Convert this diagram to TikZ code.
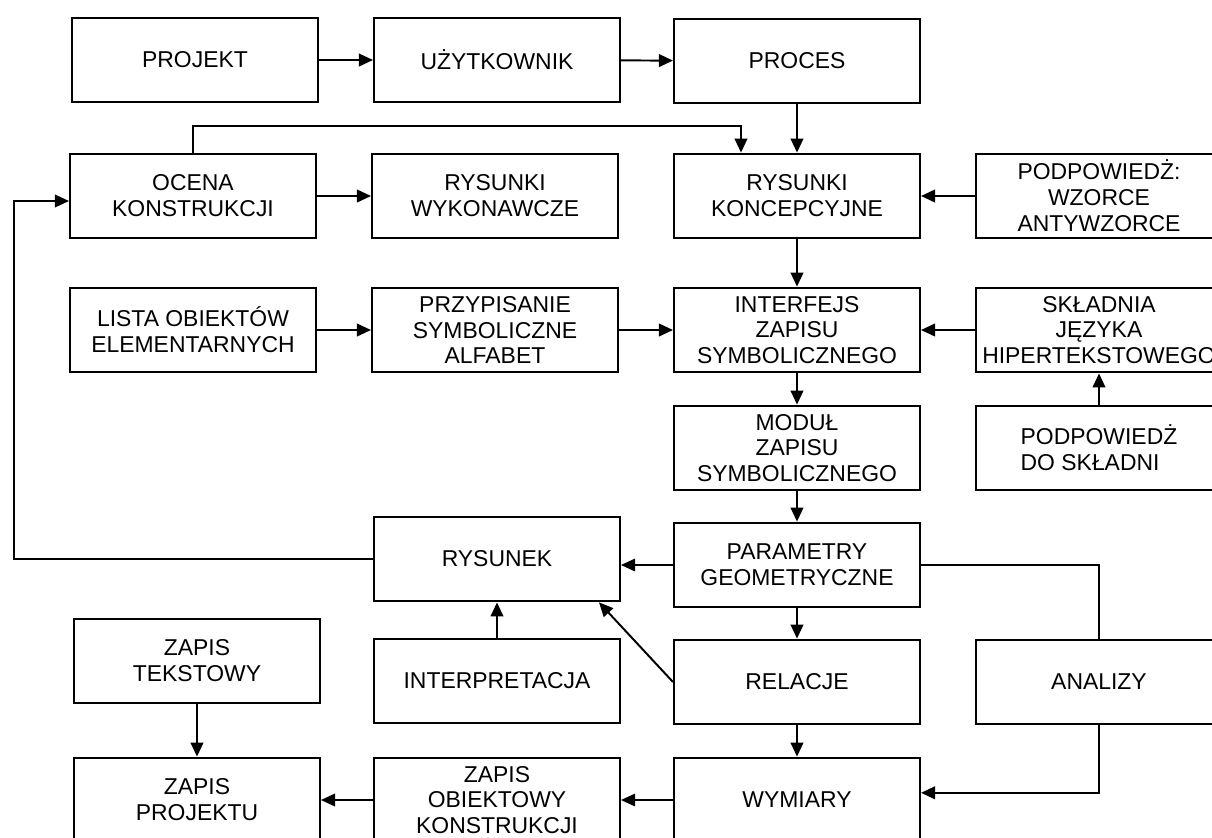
\documentclass[tikz,border=0pt]{standalone}
\usepackage{fontspec}
\setmainfont{Liberation Sans}
\usetikzlibrary{arrows.meta}
\tikzset{
  blok/.style={draw,line width=1.4pt,minimum width=6.15cm,minimum height=2.12cm,
    inner sep=1pt,align=center,font=\fontsize{16.3}{18.4}\selectfont},
  strz/.style={-{Triangle[length=10pt,width=9pt]},line width=1.4pt},
  cienka/.style={-{Triangle[length=10pt,width=9pt]},line width=0.8pt}
}
\begin{document}
\begin{tikzpicture}[x=0.025cm,y=-0.025cm]
\useasboundingbox (0,0) rectangle (1212,837);
\clip (0,0) rectangle (1212,837);
\node[blok] (projekt) at (195,60) {PROJEKT};
\node[blok] (uzytk) at (497,60) {UŻYTKOWNIK};
\node[blok] (proces) at (797,61) {PROCES};
\node[blok] (ocena) at (193,196) {OCENA\\KONSTRUKCJI};
\node[blok] (rwyk) at (495,196) {RYSUNKI\\WYKONAWCZE};
\node[blok] (rkonc) at (797,196) {RYSUNKI\\KONCEPCYJNE};
\node[blok] (wzorce) at (1099,196) {PODPOWIEDŻ:\\WZORCE\\ANTYWZORCE};
\node[blok] (lista) at (193,330) {LISTA OBIEKTÓW\\ELEMENTARNYCH};
\node[blok] (przyp) at (495,330) {PRZYPISANIE\\SYMBOLICZNE\\ALFABET};
\node[blok] (interf) at (797,330) {INTERFEJS\\ZAPISU\\SYMBOLICZNEGO};
\node[blok] (skladnia) at (1099,330) {SKŁADNIA\\JĘZYKA\\HIPERTEKSTOWEGO};
\node[blok] (modul) at (797,448) {MODUŁ\\ZAPISU\\SYMBOLICZNEGO};
\node[blok,align=left] (podpskl) at (1099,448) {PODPOWIEDŻ\\DO SKŁADNI};
\node[blok] (rysunek) at (497,559) {RYSUNEK};
\node[blok] (param) at (797,565) {PARAMETRY\\GEOMETRYCZNE};
\node[blok] (ztekst) at (197,661) {ZAPIS\\TEKSTOWY};
\node[blok] (interp) at (497,681) {INTERPRETACJA};
\node[blok] (relacje) at (797,682) {RELACJE};
\node[blok] (analizy) at (1099,682) {ANALIZY};
\node[blok] (zproj) at (197,800) {ZAPIS\\PROJEKTU};
\node[blok] (zobiekt) at (497,800) {ZAPIS\\OBIEKTOWY\\KONSTRUKCJI};
\node[blok] (wymiary) at (797,800) {WYMIARY};
\draw[strz] (projekt) -- (uzytk);
\draw[strz] (uzytk) -- (proces);
\draw[strz] (proces) -- (rkonc);
\coordinate (g1) at (741,126);
\draw[strz] (ocena.north) |- (g1) -- (g1 |- rkonc.north);
\draw[strz] (ocena) -- (rwyk);
\draw[strz] (wzorce) -- (rkonc);
\draw[strz] (rkonc) -- (interf);
\draw[strz] (lista) -- (przyp);
\draw[strz] (przyp) -- (interf);
\draw[strz] (skladnia) -- (interf);
\draw[strz] (interf) -- (modul);
\draw[strz] (podpskl) -- (skladnia);
\draw[strz] (modul) -- (param);
\draw[cienka] (param.west) -- (param.west -| rysunek.east);
\coordinate (g2) at (14,201);
\draw[cienka,line width=1.1pt] (rysunek.west) -| (g2) -- (g2 -| ocena.west);
\draw[line width=1.1pt] (param.east) -| (analizy.north);
\draw[strz] (analizy.south) |- ([yshift=0.18cm]wymiary.east);
\draw[strz] (param) -- (relacje);
\draw[strz] (relacje) -- (wymiary);
\draw[strz] (interp) -- (rysunek);
\draw[strz] (relacje.west) -- ([xshift=-0.55cm]rysunek.south east);
\draw[strz] (ztekst) -- (zproj);
\draw[strz] (zobiekt) -- (zproj);
\draw[cienka] (wymiary) -- (zobiekt);
\end{tikzpicture}
\end{document}
